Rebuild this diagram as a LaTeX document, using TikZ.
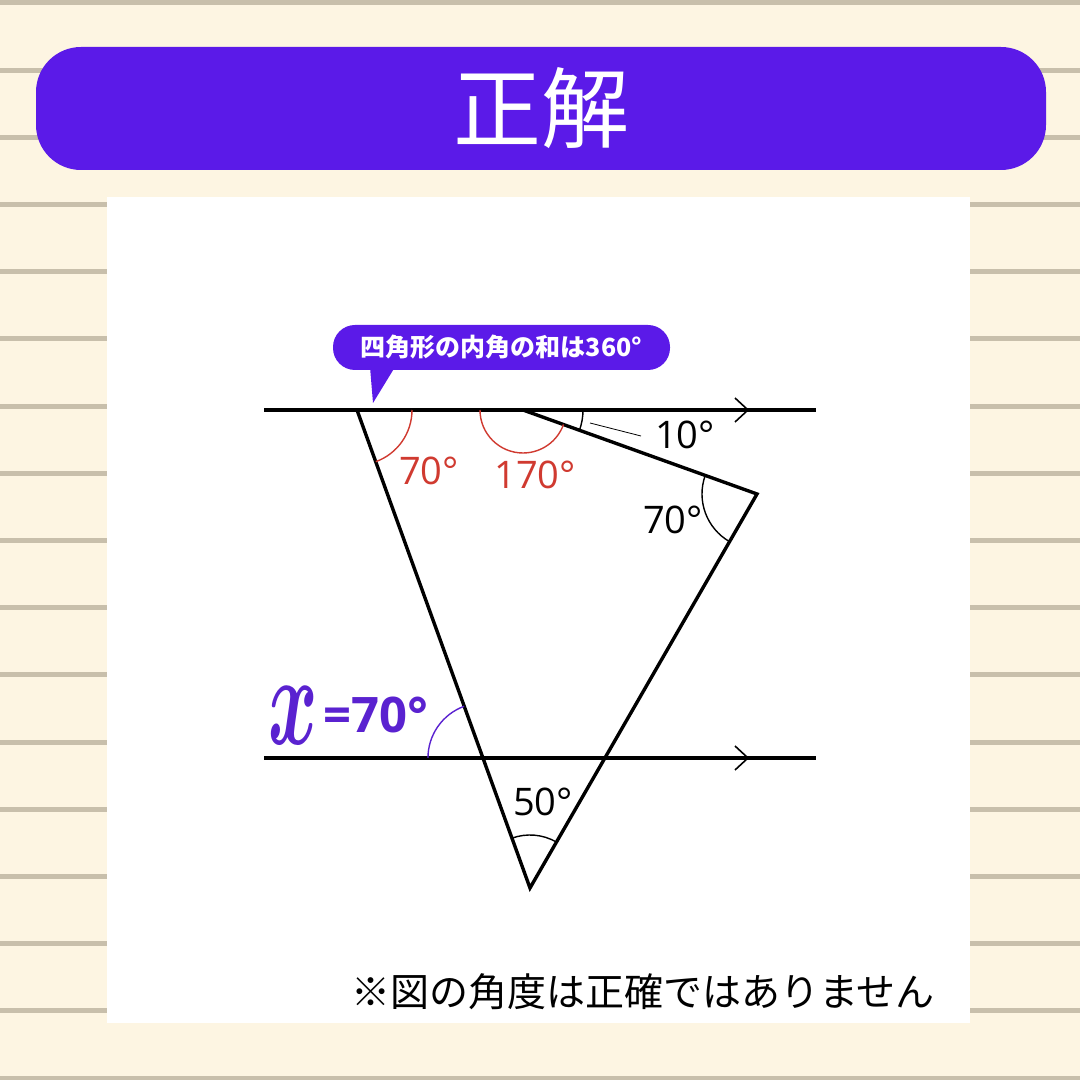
\RequirePackage{fix-cm}
\documentclass[tikz,border=0pt]{standalone}
\usepackage{fontspec}
\usepackage{amsmath,amssymb}
\usepackage{graphicx}
\newfontfamily\jpfont{Noto Sans CJK JP}
\newfontfamily\numfont{Open Sans}
\usetikzlibrary{calc}
\definecolor{cream}{HTML}{FDF5E2}
\definecolor{stripe}{HTML}{C8BFAB}
\definecolor{banner}{HTML}{5B1AE8}
\definecolor{violet}{HTML}{5A22D0}
\definecolor{angred}{HTML}{D03A30}
\tikzset{
	bigline/.style={line width=3.4pt},
	thinarc/.style={line width=1.4pt},
	chevron/.style={line width=1.6pt},
	deg/.style={font=\numfont\fontsize{38}{38}\selectfont},
	titlebar/.style={fill=banner,rounded corners=45pt,minimum width=1010pt,minimum height=123pt,
			text=white,font=\jpfont\fontsize{88}{88}\selectfont},
	notebox/.style={fill=banner,rounded corners=22pt,minimum width=337pt,minimum height=45pt,
			text=white,font=\jpfont\bfseries\fontsize{25}{25}\selectfont}
}

\begin{document}
\begin{tikzpicture}[x=1pt,y=1pt]
        \useasboundingbox (0,0) rectangle (1080,1080);
        \fill[cream] (0,0) rectangle (1080,1080);
        \foreach \k in {0,...,16}
            \draw[stripe,line width=5pt] (0,{1077-67.2*\k}) -- (1080,{1077-67.2*\k});
        \node[titlebar] (title) at (541,971.5) {正解};
        \fill[white] (107,57) rectangle (970,883);
        % parallel lines
        \coordinate (topL) at (264,670);
        \coordinate (topR) at (816,670);
        \coordinate (botL) at (264,322);
        \coordinate (botR) at (816,322);
        \coordinate (tipT) at (748,670);
        \coordinate (tipB) at (748,322);
        % figure corners
        \coordinate (A) at (357,670);
        \coordinate (B) at (523,670);
        \coordinate (C) at (757,586);
        \coordinate (D) at (530,192);
        \coordinate (P) at (intersection of A--D and botL--botR);
        \draw[bigline] (topL) -- (topR);
        \draw[bigline] (botL) -- (botR);
        \draw[chevron] (tipT) ++(-13,12) -- (tipT) -- ++(-13,-12);
        \draw[chevron] (tipB) ++(-13,12) -- (tipB) -- ++(-13,-12);
        \draw[bigline,line join=miter] (A) -- (D) -- (C) -- (B);
        % angle marks
        \draw[thinarc,angred] ($(A)+(-70:55)$) arc (-70:0:55);
        \draw[thinarc,angred] ($(B)+(180:43)$) arc (180:340.3:43);
        \draw[thinarc] ($(B)+(-19.7:60)$) arc (-19.7:0:60);
        \draw[thinarc] ($(C)+(160.3:55)$) arc (160.3:240:55);
        \draw[thinarc] ($(D)+(60:53)$) arc (60:110:53);
        \draw[thinarc,violet] ($(P)+(110:55)$) arc (110:180:55);
        \coordinate (tenA) at (590,657);
        \coordinate (tenB) at (641,644);
        \draw[line width=0.8pt] (tenA) -- (tenB);
        \node[deg,text=angred] (a70) at (429,609) {70°};
        \node[deg,text=angred] (a170) at (535,605) {170°};
        \node[deg] (a10) at (685,645) {10°};
        \node[deg] (c70) at (673,560) {70°};
        \node[deg] (d50) at (543,278) {50°};
        % answer
        \node[text=violet,inner sep=0pt] (xvar) at (293,364) {\fontsize{100}{100}\selectfont\scalebox{0.75}[1.3]{\boldmath$x$}};
        \node[text=violet,inner sep=0pt,anchor=west,font=\numfont\bfseries\fontsize{49}{49}\selectfont] (xval) at (323,365) {=70°};
        % callout
        \node[notebox] (sumnote) at (501.5,732.5) {四角形の内角の和は360°};
        \coordinate (tailL) at (370,713);
        \coordinate (tailR) at (395,713);
        \coordinate (tailT) at (373,677);
        \fill[banner] (tailL) -- (tailR) -- (tailT) -- cycle;
        \node[font=\jpfont\fontsize{39}{39}\selectfont] (note) at (643,88) {※図の角度は正確ではありません};
    \end{tikzpicture}
\end{document}
